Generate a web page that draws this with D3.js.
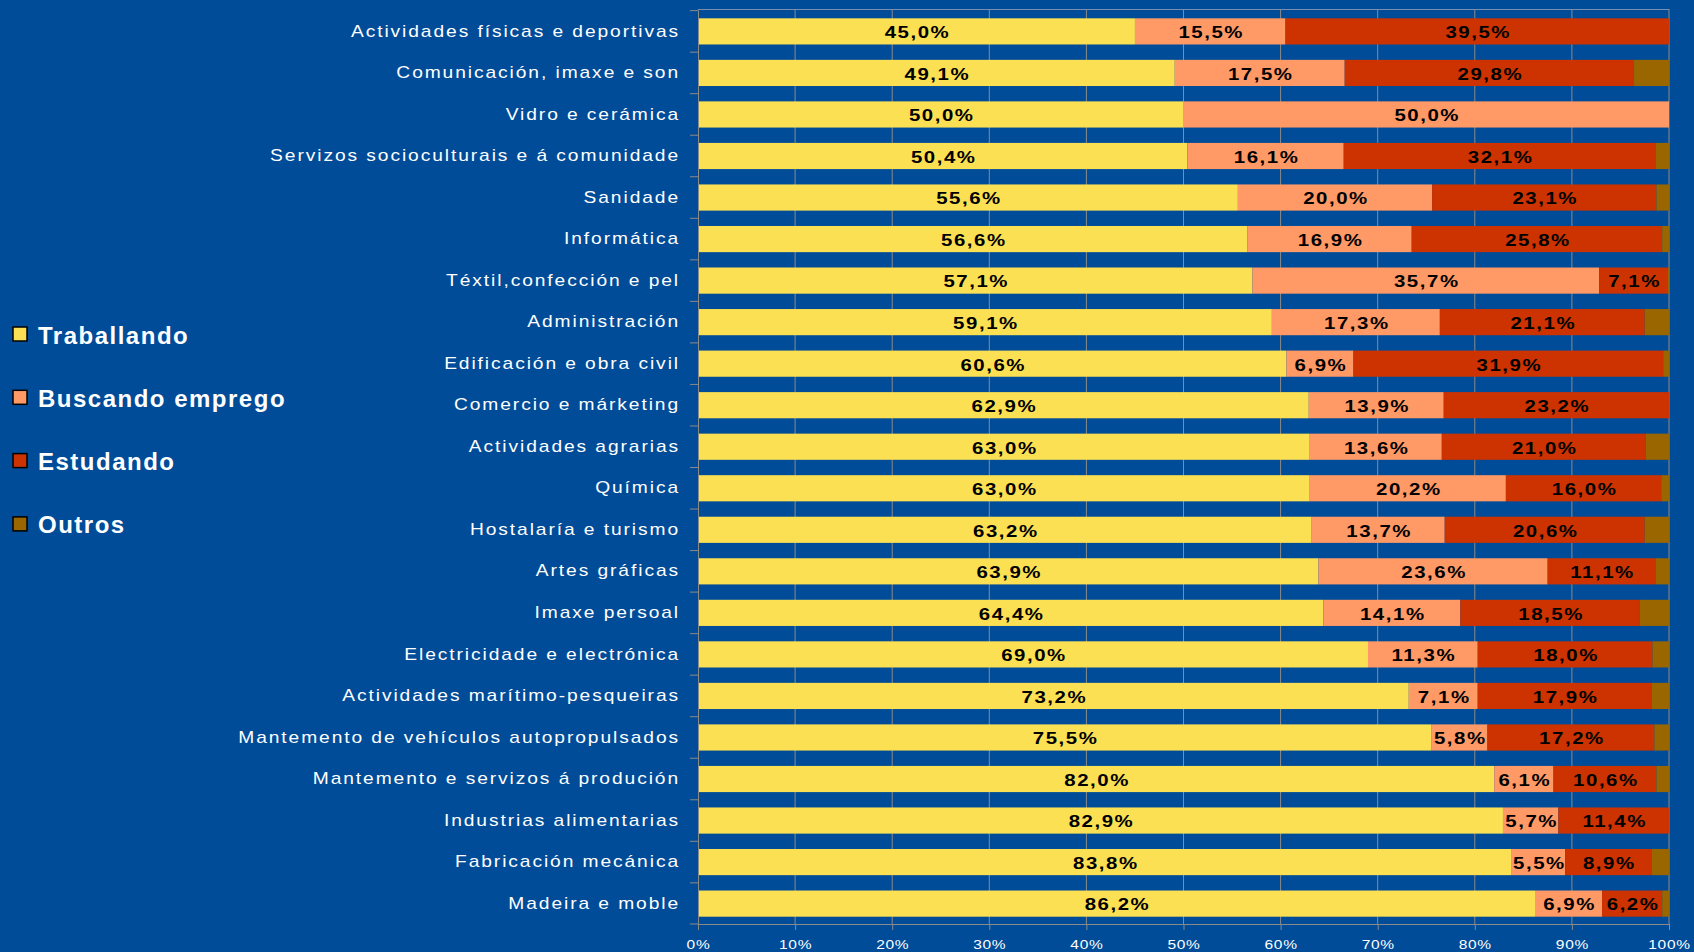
<!DOCTYPE html>
<html>
<head>
<meta charset="utf-8">
<script src="https://cdn.jsdelivr.net/npm/d3@7"></script>
<style>
  html, body { margin: 0; padding: 0; background: #004c98; }
  svg { display: block; }
</style>
</head>
<body>
<script>
// categories, top to bottom
const categories = [
  'Actividades físicas e deportivas',
  'Comunicación, imaxe e son',
  'Vidro e cerámica',
  'Servizos socioculturais e á comunidade',
  'Sanidade',
  'Informática',
  'Téxtil,confección e pel',
  'Administración',
  'Edificación e obra civil',
  'Comercio e márketing',
  'Actividades agrarias',
  'Química',
  'Hostalaría e turismo',
  'Artes gráficas',
  'Imaxe persoal',
  'Electricidade e electrónica',
  'Actividades marítimo-pesqueiras',
  'Mantemento de vehículos autopropulsados',
  'Mantemento e servizos á produción',
  'Industrias alimentarias',
  'Fabricación mecánica',
  'Madeira e moble'
];

const traballando = [45.0, 49.1, 50.0, 50.4, 55.6, 56.6, 57.1, 59.1, 60.6, 62.9, 63.0, 63.0, 63.2, 63.9, 64.4, 69.0, 73.2, 75.5, 82.0, 82.9, 83.8, 86.2];
const buscando    = [15.5, 17.5, 50.0, 16.1, 20.0, 16.9, 35.7, 17.3, 6.9, 13.9, 13.6, 20.2, 13.7, 23.6, 14.1, 11.3, 7.1, 5.8, 6.1, 5.7, 5.5, 6.9];
const estudando   = [39.5, 29.8, 0, 32.1, 23.1, 25.8, 7.1, 21.1, 31.9, 23.2, 21.0, 16.0, 20.6, 11.1, 18.5, 18.0, 17.9, 17.2, 10.6, 11.4, 8.9, 6.2];
const outros      = [0, 3.6, 0, 1.4, 1.3, 0.7, 0.1, 2.5, 0.6, 0, 2.4, 0.8, 2.5, 1.4, 3.0, 1.7, 1.8, 1.5, 1.3, 0, 1.8, 0.7];

const seriesNames = ['Traballando', 'Buscando emprego', 'Estudando', 'Outros'];
const seriesColors = ['#fbe053', '#ff9966', '#cc3300', '#996600'];
const xTicks = [0, 10, 20, 30, 40, 50, 60, 70, 80, 90, 100];

const W = 1694, H = 952;
const plot = { left: 698, right: 1669, top: 9, bottom: 924 };
const FONT = '"Liberation Sans", Arial, sans-serif';
const SX = 1.2; // the original text is drawn horizontally stretched

const rows = categories.map((c, i) => ({
  cat: c,
  s0: traballando[i], s1: buscando[i], s2: estudando[i], s3: outros[i]
}));

const stacked = d3.stack().keys(['s0', 's1', 's2', 's3'])(rows);

const x = d3.scaleLinear().domain([0, 100]).range([plot.left, plot.right]);
const y = d3.scaleBand().domain(categories).range([plot.top + 1, plot.bottom + 1])
  .paddingInner(0.37).paddingOuter(0.2);

const svg = d3.select('body').append('svg')
  .attr('width', W).attr('height', H)
  .style('font-family', FONT);

svg.append('rect').attr('width', W).attr('height', H).attr('fill', '#004c98');

// gridlines
svg.append('g')
  .selectAll('line')
  .data(xTicks.slice(1))
  .enter().append('line')
  .attr('x1', d => x(d)).attr('x2', d => x(d))
  .attr('y1', plot.top).attr('y2', plot.bottom)
  .attr('stroke', '#8a8a8a').attr('stroke-width', 1);

// plot border top
svg.append('line')
  .attr('x1', plot.left).attr('x2', plot.right)
  .attr('y1', plot.top + 0.5).attr('y2', plot.top + 0.5)
  .attr('stroke', '#7a8fb0').attr('stroke-width', 1);

// bars
svg.append('g')
  .selectAll('g')
  .data(stacked)
  .enter().append('g')
  .attr('fill', (d, i) => seriesColors[i])
  .selectAll('rect')
  .data(d => d)
  .enter().append('rect')
  .attr('x', d => x(d[0]))
  .attr('width', d => x(d[1]) - x(d[0]))
  .attr('y', d => y(d.data.cat))
  .attr('height', y.bandwidth());

// value labels (first three series)
svg.append('g')
  .selectAll('g')
  .data(stacked.slice(0, 3))
  .enter().append('g')
  .selectAll('text')
  .data(d => d.filter(p => p[1] - p[0] > 0))
  .enter().append('text')
  .attr('transform', `scale(${SX},1)`)
  .attr('x', d => ((x(d[0]) + x(d[1])) / 2 + 1) / SX)
  .attr('y', d => y(d.data.cat) + y.bandwidth() / 2 + 1)
  .attr('text-anchor', 'middle')
  .attr('dominant-baseline', 'central')
  .attr('font-size', 17)
  .attr('font-weight', 'bold')
  .attr('letter-spacing', '1.3px')
  .attr('fill', '#000')
  .text(d => (d[1] - d[0]).toFixed(1).replace('.', ',') + '%');

// y axis
const yAxis = svg.append('g')
  .attr('transform', `translate(${plot.left},0)`)
  .call(d3.axisLeft(y).tickSize(0).tickPadding(18));
yAxis.select('.domain').attr('stroke', '#8a8a8a');
yAxis.selectAll('text')
  .attr('transform', `scale(${SX},1)`)
  .attr('x', -18 / SX)
  .attr('fill', '#fff')
  .attr('font-size', 16)
  .attr('letter-spacing', '1.6px')
  .attr('font-family', FONT);

// y tick marks at band boundaries
const bounds = categories.map(c => y(c) - y.step() * y.paddingInner() / 2).concat([plot.bottom]);
svg.append('g')
  .selectAll('line')
  .data(bounds)
  .enter().append('line')
  .attr('x1', plot.left - 8).attr('x2', plot.left)
  .attr('y1', d => d).attr('y2', d => d)
  .attr('stroke', '#8a8a8a');

// x axis
const xAxis = svg.append('g')
  .attr('transform', `translate(0,${plot.bottom})`)
  .call(d3.axisBottom(x).tickValues(xTicks).tickSize(6).tickPadding(9)
    .tickFormat(d => d + '%'));
xAxis.select('.domain').attr('stroke', '#8a8a8a');
xAxis.selectAll('line').attr('stroke', '#8a8a8a');
xAxis.selectAll('text')
  .attr('transform', `scale(1.15,1)`)
  .attr('fill', '#fff')
  .attr('font-size', 13.5)
  .attr('letter-spacing', '0.6px')
  .attr('font-family', FONT);

// legend
const legend = svg.append('g')
  .selectAll('g')
  .data(seriesNames)
  .enter().append('g')
  .attr('transform', (d, i) => `translate(13,${327 + i * 63.3})`);
legend.append('rect')
  .attr('width', 14).attr('height', 14)
  .attr('fill', (d, i) => seriesColors[i])
  .attr('stroke', '#000').attr('stroke-width', 1.5);
legend.append('text')
  .attr('x', 25).attr('y', 8)
  .attr('dominant-baseline', 'central')
  .attr('fill', '#fff')
  .attr('font-size', 24)
  .attr('font-weight', 'bold')
  .attr('letter-spacing', '1.5px')
  .text(d => d);
</script>
</body>
</html>
